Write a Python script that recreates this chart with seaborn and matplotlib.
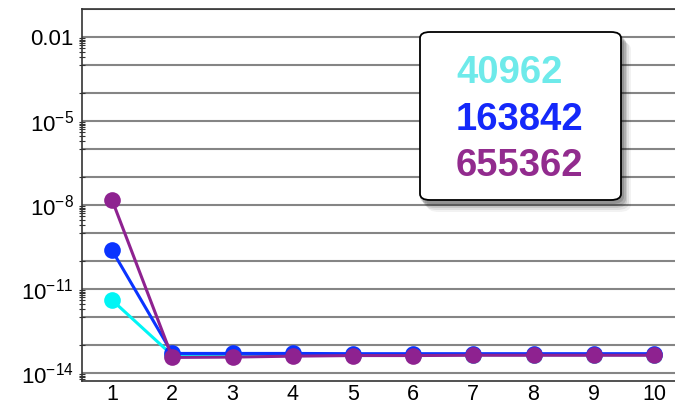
import matplotlib
matplotlib.use("Agg")
import matplotlib.pyplot as plt
import matplotlib.ticker as mticker
from matplotlib.patches import FancyBboxPatch
import seaborn as sns
import numpy as np
import pandas as pd

iterations = [1, 2, 3, 4, 5, 6, 7, 8, 9, 10]
series_names = ["40962", "163842", "655362"]
err_40962 = [4.0e-12, 4.3e-14, 4.4e-14, 4.4e-14, 4.5e-14, 4.5e-14, 4.5e-14, 4.5e-14, 4.5e-14, 4.5e-14]
err_163842 = [2.4e-10, 5.0e-14, 5.0e-14, 5.0e-14, 4.9e-14, 4.9e-14, 4.9e-14, 4.9e-14, 4.9e-14, 4.9e-14]
err_655362 = [1.5e-8, 3.6e-14, 3.7e-14, 4.0e-14, 4.2e-14, 4.2e-14, 4.3e-14, 4.3e-14, 4.3e-14, 4.3e-14]
line_colors = ["#00F5F5", "#0A33FF", "#8E2290"]
text_colors = ["#6EEAEA", "#1428FA", "#922B8E"]
ytick_vals = [1e-14, 1e-11, 1e-8, 1e-5, 1e-2]
ytick_labels = [r"$10^{-14}$", r"$10^{-11}$", r"$10^{-8}$", r"$10^{-5}$", "0.01"]

df = pd.DataFrame({
    "iter": iterations * 3,
    "err": err_40962 + err_163842 + err_655362,
    "series": sum([[n] * len(iterations) for n in series_names], []),
})

sns.set_theme(style="white")
plt.rcParams["font.family"] = ["Liberation Sans", "DejaVu Sans"]
plt.rcParams["mathtext.fontset"] = "custom"
plt.rcParams["mathtext.rm"] = "Liberation Sans"
plt.rcParams["mathtext.it"] = "Liberation Sans"

W, H = 675, 407
fig = plt.figure(figsize=(W / 100, H / 100), dpi=100)
ax = fig.add_axes([82 / W, 26 / H, 602 / W, 372 / H])

for name, lc in zip(series_names, line_colors):
    sub = df[df["series"] == name]
    sns.lineplot(data=sub, x="iter", y="err", ax=ax, color=lc, linewidth=2.2,
                 marker="o", markersize=12, markeredgewidth=0, legend=False)

ax.set_yscale("log")
ax.set_xlim(0.5, 10.5)
ax.set_ylim(10 ** (-14 - 8 / 28), 1e-1)
ax.set_xticks(iterations)
ax.set_xticklabels([str(i) for i in iterations])
ax.set_yticks(ytick_vals)
ax.set_yticklabels(ytick_labels)
minor = []
for m in ytick_vals:
    minor += [m * f / 10 for f in range(2, 10)]
    minor += [m / 10, m / 100]
ax.yaxis.set_minor_locator(mticker.FixedLocator(minor))
ax.yaxis.set_minor_formatter(mticker.NullFormatter())
ax.set_xlabel("")
ax.set_ylabel("")

for d in range(-14, 0):
    ax.axhline(10.0 ** d, color="#858585", linewidth=1.5, zorder=0)

ax.tick_params(axis="both", which="major", direction="in", length=5, width=1.2, colors="black")
ax.tick_params(axis="y", which="major", labelsize=16, pad=6)
ax.tick_params(axis="x", which="major", labelsize=15.5, pad=2)
ax.tick_params(axis="y", which="minor", direction="inout", length=4, width=0.8, left=True, colors="#333333")
for s in ["left", "bottom", "top"]:
    ax.spines[s].set_color("#333333")
    ax.spines[s].set_linewidth(1.2)
ax.spines["right"].set_visible(False)

# legend box drawn in figure pixels
def px(x, y):
    return x / W, 1 - y / H

bx0, by0, bx1, by1 = 420, 32, 621, 200
for dx, dy, a in [(10, 12, 0.05), (8, 10, 0.07), (6, 8, 0.10), (5, 6, 0.13), (3, 4, 0.15)]:
    x0, y0 = px(bx0 + dx - 3, by1 + dy)
    x1, y1 = px(bx1 + dx, by0 + dy - 2)
    sh = FancyBboxPatch((x0, y0), x1 - x0, y1 - y0, boxstyle="round,pad=0,rounding_size=0.018",
                        transform=fig.transFigure, facecolor="black", edgecolor="none",
                        alpha=a, zorder=8)
    fig.patches.append(sh)
x0, y0 = px(bx0, by1)
x1, y1 = px(bx1, by0)
box = FancyBboxPatch((x0, y0), x1 - x0, y1 - y0, boxstyle="round,pad=0,rounding_size=0.015",
                     transform=fig.transFigure, facecolor="white", edgecolor="black",
                     linewidth=1.3, zorder=9)
fig.patches.append(box)
baselines = [83, 130, 176.5]
for name, c, yb in zip(series_names, text_colors, baselines):
    tx, ty = px(456, yb)
    fig.text(tx, ty, name, color=c, fontsize=27.5, fontweight="bold",
             ha="left", va="baseline", zorder=10)

fig.savefig("out.png", dpi=100)
